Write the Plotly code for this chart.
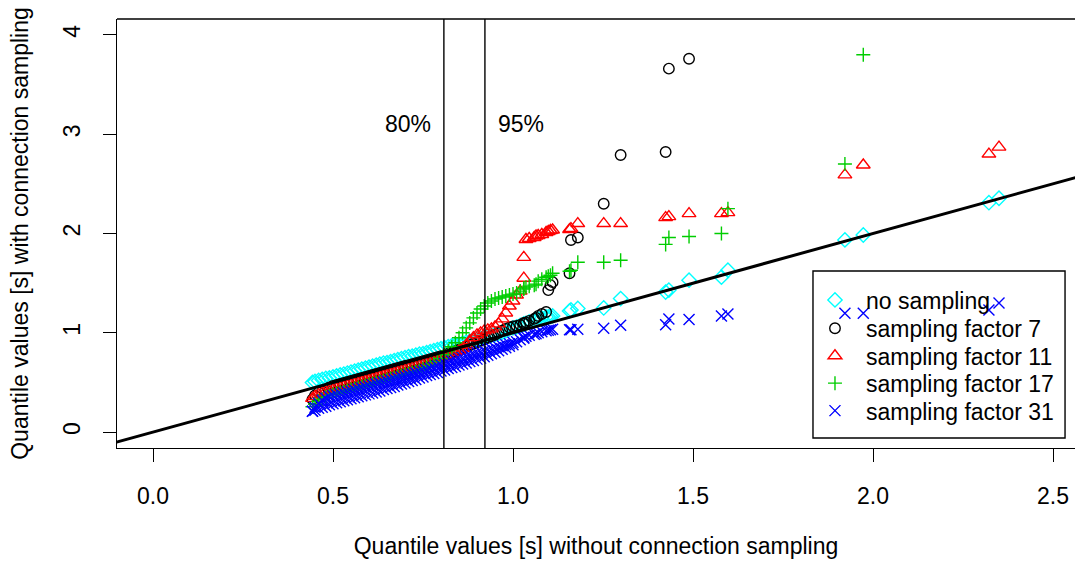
import plotly.graph_objects as go

# Shared quantile positions (no-sampling quantiles, seconds)
x_quantiles = [
    0.443, 0.45, 0.46, 0.47, 0.48, 0.49, 0.50, 0.51, 0.52, 0.53,
    0.54, 0.55, 0.56, 0.57, 0.58, 0.59, 0.60, 0.61, 0.62, 0.63,
    0.64, 0.65, 0.66, 0.67, 0.68, 0.69, 0.70, 0.71, 0.72, 0.73,
    0.74, 0.75, 0.76, 0.77, 0.78, 0.79, 0.80, 0.81, 0.82, 0.83,
    0.84, 0.85, 0.86, 0.87, 0.88, 0.89, 0.90, 0.91, 0.92, 0.93,
    0.94, 0.95, 0.96, 0.97, 0.98, 0.99, 1.00,
    1.01, 1.02, 1.03, 1.03, 1.036, 1.045, 1.059, 1.064, 1.07, 1.08,
    1.092, 1.098, 1.104, 1.110, 1.157, 1.161, 1.18, 1.252, 1.299, 1.424,
    1.433, 1.489, 1.579, 1.597, 1.922, 1.973, 2.322, 2.350,
]

y_no_sampling = [
    0.50, 0.51, 0.52, 0.53, 0.54, 0.545, 0.555, 0.565, 0.575, 0.585,
    0.595, 0.605, 0.615, 0.625, 0.635, 0.645, 0.655, 0.665, 0.675, 0.685,
    0.695, 0.70, 0.71, 0.72, 0.73, 0.74, 0.75, 0.76, 0.765, 0.775,
    0.785, 0.79, 0.80, 0.81, 0.82, 0.83, 0.84, 0.85, 0.86, 0.87,
    0.875, 0.885, 0.895, 0.905, 0.915, 0.925, 0.935, 0.945, 0.955, 0.965,
    0.975, 0.985, 0.995, 1.005, 1.02, 1.04, 1.05,
    1.06, 1.075, 1.085, 1.09, 1.095, 1.11, 1.12, 1.13, 1.14, 1.15,
    1.16, 1.16, 1.165, 1.17, 1.22, 1.23, 1.245, 1.25, 1.345, 1.41,
    1.43, 1.53, 1.56, 1.63, 1.935, 1.985, 2.31, 2.355,
]

y_factor_7 = [
    0.33, 0.37, 0.40, 0.41, 0.43, 0.45, 0.465, 0.475, 0.485, 0.495,
    0.505, 0.515, 0.525, 0.535, 0.545, 0.555, 0.565, 0.575, 0.585, 0.595,
    0.605, 0.615, 0.625, 0.635, 0.645, 0.655, 0.665, 0.675, 0.685, 0.695,
    0.705, 0.715, 0.725, 0.735, 0.745, 0.755, 0.765, 0.775, 0.79, 0.80,
    0.815, 0.83, 0.845, 0.86, 0.875, 0.89, 0.905, 0.92, 0.935, 0.95,
    0.965, 0.98, 1.0, 1.02, 1.04, 1.055, 1.065,
    1.07, 1.08, 1.09, 1.10, 1.105, 1.12, 1.14, 1.15, 1.17, 1.19,
    1.21, 1.43, 1.48, 1.51, 1.60, 1.935, 1.96, 2.30, 2.79, 2.82,
    3.66, 3.76, None, None, None, None, None, None,
]

y_factor_11 = [
    0.34, 0.36, 0.38, 0.395, 0.405, 0.415, 0.425, 0.435, 0.445, 0.455,
    0.465, 0.475, 0.485, 0.495, 0.505, 0.515, 0.525, 0.535, 0.545, 0.555,
    0.565, 0.575, 0.585, 0.595, 0.605, 0.615, 0.625, 0.635, 0.645, 0.655,
    0.665, 0.675, 0.685, 0.695, 0.705, 0.715, 0.73, 0.745, 0.76, 0.78,
    0.80, 0.82, 0.845, 0.875, 0.92, 0.95, 0.98, 1.0, 1.02, 1.03,
    1.04, 1.06, 1.09, 1.14, 1.20, 1.27, 1.32,
    1.38, 1.42, 1.55, 1.76, 1.94, 1.95, 1.96, 1.975, 1.98, 1.99,
    2.01, 2.02, 2.03, 2.035, 2.04, 2.05, 2.10, 2.10, 2.10, 2.16,
    2.17, 2.20, 2.20, 2.21, 2.59, 2.69, 2.80, 2.87,
]

y_factor_17 = [
    0.255, 0.28, 0.31, 0.33, 0.35, 0.365, 0.38, 0.39, 0.40, 0.41,
    0.42, 0.43, 0.44, 0.45, 0.46, 0.47, 0.48, 0.49, 0.50, 0.51,
    0.52, 0.53, 0.54, 0.55, 0.56, 0.57, 0.58, 0.59, 0.60, 0.61,
    0.62, 0.635, 0.65, 0.665, 0.685, 0.71, 0.74, 0.78, 0.82, 0.86,
    0.90, 0.95, 1.00, 1.05, 1.10, 1.15, 1.20, 1.24, 1.27, 1.30,
    1.32, 1.34, 1.35, 1.36, 1.37, 1.38, 1.39,
    1.40, 1.42, 1.44, 1.45, 1.46, 1.47, 1.48, 1.49, 1.52, 1.54,
    1.56, 1.57, 1.58, 1.60, 1.62, 1.63, 1.71, 1.71, 1.73, 1.89,
    1.96, 1.97, 2.00, 2.25, 2.70, 3.80, None, None,
]

y_factor_31 = [
    0.21, 0.25, 0.29, 0.32, 0.34, 0.355, 0.365, 0.375, 0.385, 0.395,
    0.405, 0.415, 0.425, 0.435, 0.445, 0.455, 0.465, 0.475, 0.485, 0.495,
    0.505, 0.515, 0.525, 0.535, 0.545, 0.555, 0.565, 0.575, 0.585, 0.595,
    0.605, 0.615, 0.625, 0.64, 0.65, 0.665, 0.675, 0.69, 0.70, 0.715,
    0.725, 0.74, 0.75, 0.765, 0.775, 0.79, 0.80, 0.81, 0.82, 0.83,
    0.84, 0.85, 0.86, 0.87, 0.88, 0.89, 0.905,
    0.91, 0.93, 0.945, 0.955, 0.965, 0.975, 0.985, 0.99, 1.0, 1.01,
    1.02, 1.025, 1.03, 1.035, 1.03, 1.03, 1.035, 1.045, 1.075, 1.08,
    1.14, 1.135, 1.17, 1.19, 1.196, 1.196, 1.23, 1.30,
]

# factor 31: lower ends of the tied quantile steps (first 57 quantile positions)
y_factor_31_ties = [
    0.21, 0.22, 0.24, 0.25, 0.26, 0.275, 0.285, 0.295, 0.305, 0.315,
    0.325, 0.335, 0.345, 0.355, 0.365, 0.375, 0.385, 0.395, 0.405, 0.415,
    0.43, 0.44, 0.45, 0.46, 0.475, 0.485, 0.495, 0.51, 0.52, 0.53,
    0.545, 0.555, 0.57, 0.58, 0.59, 0.60, 0.615, 0.625, 0.64, 0.65,
    0.66, 0.675, 0.685, 0.695, 0.71, 0.72, 0.735, 0.745, 0.76, 0.775,
    0.79, 0.805, 0.82, 0.835, 0.85, 0.865, 0.88,
]

series_names = ["no sampling", "sampling factor 7", "sampling factor 11",
                "sampling factor 17", "sampling factor 31"]
series_x = [x_quantiles, x_quantiles, x_quantiles, x_quantiles,
            x_quantiles + x_quantiles[:len(y_factor_31_ties)]]
series_y = [y_no_sampling, y_factor_7, y_factor_11, y_factor_17,
            y_factor_31 + y_factor_31_ties]

quantile_80 = 0.808
quantile_95 = 0.922
x_ticks = [0.0, 0.5, 1.0, 1.5, 2.0, 2.5]
y_ticks = [0, 1, 2, 3, 4]
diag_ends = [-0.2, 2.8]

symbols = ["diamond-open", "circle-open", "triangle-up-open", "cross-thin-open", "x-thin-open"]
colors = ["#00FFFF", "#000000", "#FF0000", "#00CD00", "#0000FF"]
sizes = [11, 10.5, 12, 10, 11]

FONT = "Liberation Sans, Arial, Helvetica, sans-serif"
FS = 23

legend_ids = ["legend", "legend2", "legend3", "legend4", "legend5"]
legend_rows = [0.345, 0.279, 0.215, 0.151, 0.087]

fig = go.Figure()
for name, xs, ys, sym, col, sz, lg in zip(series_names, series_x, series_y,
                                          symbols, colors, sizes, legend_ids):
    fig.add_trace(go.Scatter(
        x=xs, y=ys, mode="markers", name=name, legend=lg,
        marker=dict(symbol=sym, size=sz, color=col, line=dict(color=col, width=1.4)),
    ))

fig.add_trace(go.Scatter(
    x=diag_ends, y=diag_ends, mode="lines", showlegend=False, hoverinfo="skip",
    line=dict(color="black", width=3),
))

shapes = []
for q in (quantile_80, quantile_95):
    shapes.append(dict(type="line", xref="x", yref="paper", x0=q, x1=q, y0=0, y1=1,
                       line=dict(color="black", width=1.4), layer="above"))
shapes.append(dict(type="line", xref="paper", yref="paper", x0=0, x1=1, y0=1, y1=1,
                   line=dict(color="black", width=1.4), layer="above"))
# legend frame
shapes.append(dict(type="rect", xref="paper", yref="paper", x0=0.7265, x1=0.9896,
                   y0=0.0233, y1=0.4126, line=dict(color="black", width=1.4),
                   fillcolor="rgba(0,0,0,0)", layer="above"))

annotations = [
    dict(x=quantile_80 - 0.1, y=3.1, xref="x", yref="y", text="80%", showarrow=False,
         font=dict(family=FONT, size=FS, color="black")),
    dict(x=quantile_95 + 0.1, y=3.1, xref="x", yref="y", text="95%", showarrow=False,
         font=dict(family=FONT, size=FS, color="black")),
]

legend_layout = {}
for lg, row in zip(legend_ids, legend_rows):
    legend_layout[lg] = dict(x=0.7171, y=row, xanchor="left", yanchor="middle",
                             bgcolor="rgba(0,0,0,0)", borderwidth=0, itemwidth=52,
                             font=dict(family=FONT, size=FS, color="black"))

fig.update_layout(
    width=1075, height=561,
    margin=dict(l=117, r=0, t=19, b=113),
    paper_bgcolor="white", plot_bgcolor="white",
    font=dict(family=FONT, size=FS, color="black"),
    shapes=shapes, annotations=annotations,
    showlegend=True,
    xaxis=dict(range=[-0.1, 2.5611], showgrid=False, zeroline=False,
               showline=True, linecolor="black", linewidth=1.4,
               ticks="outside", ticklen=13, tickwidth=1.4, tickcolor="black",
               tickvals=x_ticks, ticktext=[f"{v:.1f}" for v in x_ticks],
               ticklabelstandoff=14,
               title=dict(text="Quantile values [s] without connection sampling",
                          standoff=30, font=dict(family=FONT, size=FS))),
    yaxis=dict(range=[-0.16, 4.16], showgrid=False, zeroline=False,
               showline=True, linecolor="black", linewidth=1.4,
               ticks="outside", ticklen=13, tickwidth=1.4, tickcolor="black",
               tickvals=y_ticks, ticktext=[str(v) for v in y_ticks], tickangle=-90,
               ticklabelstandoff=14,
               title=dict(text="Quantile values [s] with connection sampling",
                          standoff=23, font=dict(family=FONT, size=FS))),
    **legend_layout,
)

fig.write_html("out.html")
